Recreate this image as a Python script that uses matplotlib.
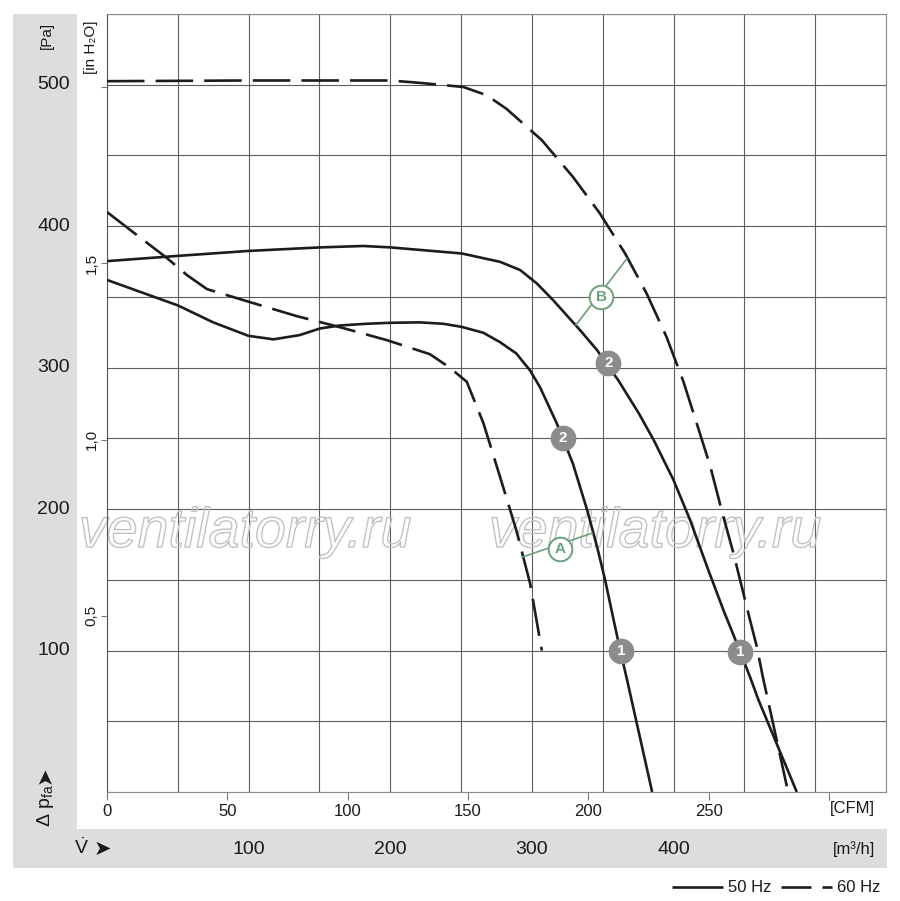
import matplotlib
matplotlib.use("Agg")
import matplotlib.pyplot as plt
import matplotlib.patheffects as pe
from matplotlib.patches import Rectangle
from matplotlib import font_manager as fm

avail = {f.name for f in fm.fontManager.ttflist}
NARROW = ['Liberation Sans Narrow', 'DejaVu Sans'] if 'Liberation Sans Narrow' in avail else ['Liberation Sans', 'DejaVu Sans']
REG = ['Liberation Sans', 'DejaVu Sans']
plt.rcParams['font.family'] = REG
plt.rcParams['lines.scale_dashes'] = False
plt.rcParams['mathtext.fontset'] = 'custom'
plt.rcParams['mathtext.rm'] = NARROW[0]
plt.rcParams['mathtext.default'] = 'regular'

# ---------------- data (x: m3/h, y: Pa) ----------------
q_50_low = [0, 50, 75, 99.8, 117.5, 136, 150.4, 164.5, 183, 200, 221, 237.5, 250.5, 265.8,
            277.5, 289, 298.7, 305.8, 317.6, 321.8, 329, 339, 346, 351.7, 357.7, 362.3, 367.2, 384.9]
p_50_low = [362, 344, 332, 322.5, 320, 323, 327.7, 329.8, 331, 331.7, 332, 331, 328.8, 324.6,
            318, 310, 298, 286, 260.5, 250, 232, 199.3, 173.4, 149.8, 121.6, 100.4, 79.2, 0]

q_50_high = [0, 50, 99.8, 150.4, 181, 200, 250.5, 277.5, 291.7, 303.5, 315, 334, 346, 352,
             360.9, 375.4, 386, 400, 411.7, 423.7, 435.2, 447.2, 454.8, 460, 487]
p_50_high = [375.3, 379, 382.5, 385, 386, 385, 380.7, 374.8, 369, 359.5, 347.7, 326.5, 312.4, 303.5,
             291.2, 267.8, 248.8, 220.5, 192.2, 159.2, 128.6, 98.9, 79.2, 65, 0]

q_60_high = [0, 100, 200, 221, 251.6, 268, 282, 307, 329, 348, 365.8, 381, 395, 407, 416.4,
             426, 434, 442.3, 448.2, 454, 458.8, 463, 480]
p_60_high = [502.5, 503, 503, 501.3, 498.4, 492.6, 483, 460.8, 434.8, 409, 380.7, 352.4, 321.8,
             290, 260.5, 230, 199, 168.7, 145, 121.5, 102.7, 81.5, 4]

q_60_low = [0, 18.4, 42.4, 56.5, 70.6, 101, 134, 164.5, 197.7, 228, 242, 254, 265.8, 277.5,
            289, 298.7, 307]
p_60_low = [410, 395.8, 377.4, 365.4, 355.5, 346.3, 336.4, 328.6, 319.4, 309.5, 300, 290, 260.6,
            222.8, 185, 147.5, 100]

# numbered operating points (label, q, p)
num_labels = ['2', '1', '2', '1']
num_q = [321.8, 363, 354, 447]
num_p = [250, 100, 303, 99]

# green system lines A and B
A_q = [293, 342.5]
A_p = [166, 183]
A_mark = (320, 172)
B_q = [331, 367]
B_p = [330, 377]
B_mark = (349, 350)

pa_ticks = [100, 200, 300, 400, 500]
m3h_ticks = [100, 200, 300, 400]
cfm_ticks = [0, 50, 100, 150, 200, 250, 300]
cfm_labels = ['0', '50', '100', '150', '200', '250', '']
inh2o_ticks = [0.5, 1.0, 1.5, 2.0]
inh2o_labels = ['0,5', '1,0', '1,5', '']

CFM = 1.699011
INH2O = 249.089

# ---------------- figure ----------------
W, H = 900, 901
fig = plt.figure(figsize=(W / 100, H / 100), dpi=100)
fig.patch.set_facecolor('white')

bg = fig.add_axes([0, 0, 1, 1], zorder=0)
bg.set_xlim(0, W)
bg.set_ylim(H, 0)
bg.axis('off')
band = '#dcdddf'
bg.add_patch(Rectangle((12.5, 14), 64.5, 815, color=band, lw=0))
bg.add_patch(Rectangle((12.5, 829), 874.5, 39, color=band, lw=0))

L, R, T, B = 107, 886, 14, 792
ax = fig.add_axes([L / W, (H - B) / H, (R - L) / W, (B - T) / H], zorder=1)
ax.set_facecolor('white')
ax.set_xlim(0, 550)
ax.set_ylim(0, 550)
ax.set_xticks(range(0, 551, 50))
ax.set_yticks(range(0, 551, 50))
ax.tick_params(length=0, labelbottom=False, labelleft=False)
ax.grid(True, color='#5e5e5e', lw=0.8)
for s in ax.spines.values():
    s.set_color('#8a8a8a')
    s.set_linewidth(0.8)
ax.spines['left'].set_color('#555555')

# watermark (above grid, below curves)
for cx in (245, 655):
    ax.text(cx, 533, 'ventilatorry.ru', transform=bg.transData, ha='center', va='center',
            fontsize=40, style='italic', family=REG, color='none',
            path_effects=[pe.Stroke(linewidth=1.0, foreground='#c2c2c2')], zorder=2, clip_on=False)

lc = '#1c1c1c'
lw = 1.9
ax.plot(q_50_low, p_50_low, color=lc, lw=lw, solid_capstyle='butt', solid_joinstyle='round', zorder=3)
ax.plot(q_50_high, p_50_high, color=lc, lw=lw, solid_capstyle='butt', solid_joinstyle='round', zorder=3)
ax.plot(q_60_high, p_60_high, color=lc, lw=lw, dashes=(27, 8), dash_capstyle='butt', zorder=3)
ax.plot(q_60_low, p_60_low, color=lc, lw=lw, dashes=(27, 8), dash_capstyle='butt', zorder=3)

green = '#6b9f78'
ax.plot(A_q, A_p, color=green, lw=1.2, zorder=4)
ax.plot(B_q, B_p, color=green, lw=1.2, zorder=4)
for (mq, mp), lab in ((A_mark, 'A'), (B_mark, 'B')):
    ax.plot([mq], [mp], 'o', ms=17, mfc='white', mec=green, mew=1.4, zorder=5)
    ax.text(mq, mp, lab, color=green, fontsize=11, fontweight='bold', family=NARROW,
            ha='center', va='center', zorder=6)

for lab, q, p in zip(num_labels, num_q, num_p):
    ax.plot([q], [p], 'o', ms=17.5, mfc='#8c8c8c', mec='#8c8c8c', zorder=5)
    ax.text(q, p, lab, color='white', fontsize=11, fontweight='bold',
            ha='center', va='center', zorder=6)

# Pa labels
xa = (70 - L) / (R - L)
for p in pa_ticks:
    ax.text(xa, p, str(p), transform=ax.get_yaxis_transform(), ha='right', va='center',
            fontsize=14, color='#1a1a1a', clip_on=False)

# m3/h labels
ya = (B - 849) / (B - T)
for q in m3h_ticks:
    ax.text(q, ya, str(q), transform=ax.get_xaxis_transform(), ha='center', va='center',
            fontsize=14, color='#1a1a1a', clip_on=False)

# CFM secondary axis
sec = ax.secondary_xaxis('bottom', functions=(lambda x: x / CFM, lambda x: x * CFM))
sec.set_xticks(cfm_ticks)
sec.set_xticklabels(cfm_labels)
sec.tick_params(length=5.5, width=0.8, color='#777777', pad=3, labelsize=12, labelcolor='#1a1a1a')
sec.spines['bottom'].set_visible(False)

# in H2O secondary axis
sey = ax.secondary_yaxis('left', functions=(lambda y: y / INH2O, lambda y: y * INH2O))
sey.set_yticks(inh2o_ticks)
sey.set_yticklabels(inh2o_labels, rotation=90, va='center')
sey.tick_params(length=4, width=0.8, color='#777777', pad=2, labelsize=11, labelcolor='#1a1a1a')
sey.spines['left'].set_visible(False)

# unit / axis texts (pixel coordinates)
bg.text(47, 35, '[Pa]', rotation=90, ha='center', va='center', fontsize=11, family=NARROW, color='#1a1a1a')
bg.text(91, 47, '[in H₂O]', rotation=90, ha='center', va='center', fontsize=11, family=NARROW, color='#1a1a1a')
bg.text(875, 808, '[CFM]', ha='right', va='center', fontsize=12, family=NARROW, color='#1a1a1a')
bg.text(875, 849, '[m³/h]', ha='right', va='center', fontsize=12, family=NARROW, color='#1a1a1a')
bg.text(46, 806, 'Δ p$_{fa}$', rotation=90, ha='center', va='center', fontsize=14,
        color='#1a1a1a')
bg.text(45, 775, '➤', rotation=90, ha='center', va='center', fontsize=15,
        family=['DejaVu Sans'], color='#1a1a1a')
bg.text(81.5, 848, r'$\dot{V}$', ha='center', va='center', fontsize=14, color='#1a1a1a')
bg.text(102, 849, '➤', ha='center', va='center', fontsize=15, family=['DejaVu Sans'], color='#1a1a1a')

# legend
fig.lines.append(plt.Line2D([672 / W, 723 / W], [1 - 887 / H] * 2, color=lc, lw=1.9,
                            transform=fig.transFigure, solid_capstyle='butt'))
fig.lines.append(plt.Line2D([781 / W, 811 / W], [1 - 887 / H] * 2, color=lc, lw=1.9,
                            transform=fig.transFigure, solid_capstyle='butt'))
fig.lines.append(plt.Line2D([822 / W, 832 / W], [1 - 887 / H] * 2, color=lc, lw=1.9,
                            transform=fig.transFigure, solid_capstyle='butt'))
fig.text(728 / W, 1 - 887 / H, '50 Hz', ha='left', va='center', fontsize=12, family=NARROW, color='#1a1a1a')
fig.text(837 / W, 1 - 887 / H, '60 Hz', ha='left', va='center', fontsize=12, family=NARROW, color='#1a1a1a')

fig.savefig('out.png', dpi=100)
